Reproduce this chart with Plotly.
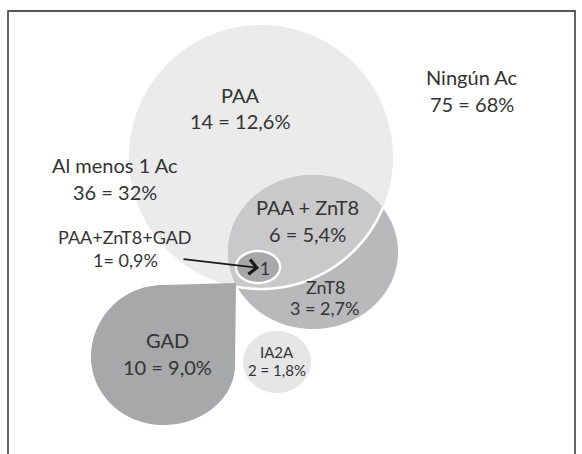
import numpy as np
import plotly.graph_objects as go

# ---- data ----
groups = ["Ningún Ac", "Al menos 1 Ac", "PAA", "PAA + ZnT8", "PAA+ZnT8+GAD", "ZnT8", "GAD", "IA2A"]
counts = [75, 36, 14, 6, 1, 3, 10, 2]
percents = ["68%", "32%", "12,6%", "5,4%", "0,9%", "2,7%", "9,0%", "1,8%"]
separators = [" = ", " = ", " = ", " = ", "= ", " = ", " = ", " = "]

# ---- layout constants (pixel space, y downward) ----
W, H = 582, 454
# label placement: x, y of name line, y of value line, font sizes
label_layout = {
    "Ningún Ac":     (472, 77, 104, 20, 20),
    "Al menos 1 Ac": (115, 165, 192, 20, 20),
    "PAA":           (240, 95, 121, 20, 20),
    "PAA + ZnT8":    (307, 207, 234, 20, 20),
    "PAA+ZnT8+GAD":  (125, 237, 260, 18, 18),
    "ZnT8":          (325, 287, 308, 18, 18),
    "GAD":           (167, 340, 367, 20, 20),
    "IA2A":          (277, 352, 370, 15, 15),
}
PAA_C = (261, 157, 132, 132)
ZNT8_C = (313, 252, 85, 77)
TRIPLE_C = (258, 267, 22, 16)
IA2A_C = (277, 362, 34, 31)

COL_PAA = "#ebebeb"
COL_INTER = "#c9c9cb"
COL_ZNT8 = "#b9b9bc"
COL_TRIPLE = "#a8a8ab"
COL_GAD = "#a7a8aa"
COL_IA2A = "#e6e6e7"
TXT = "#333333"
FONT = "Lato"


def ellipse_pts(c, n=240, t0=0, t1=2 * np.pi):
    cx, cy, rx, ry = c
    t = np.linspace(t0, t1, n)
    return cx + rx * np.cos(t), cy + ry * np.sin(t)


def inside(c, x, y):
    cx, cy, rx, ry = c
    return ((x - cx) / rx) ** 2 + ((y - cy) / ry) ** 2 <= 1.0


def poly_path(xs, ys, close=True):
    s = "M " + " L ".join(f"{a:.2f},{b:.2f}" for a, b in zip(xs, ys))
    return s + (" Z" if close else "")


shapes = []


def add_fill(path, color, line_color=None, lw=0):
    shapes.append(dict(type="path", path=path, xref="x", yref="y",
                       fillcolor=color,
                       line=dict(color=line_color or color, width=lw),
                       layer="below"))


# PAA circle
px, py = ellipse_pts(PAA_C, 600)
add_fill(poly_path(px, py), COL_PAA)

# ZnT8 ellipse
zx, zy = ellipse_pts(ZNT8_C, 600)
add_fill(poly_path(zx, zy), COL_ZNT8)

# intersection PAA ∩ ZnT8
m1 = inside(ZNT8_C, px, py)
m2 = inside(PAA_C, zx, zy)
ix = np.concatenate([px[m1], zx[m2]])
iy = np.concatenate([py[m1], zy[m2]])
ang = np.arctan2(iy - iy.mean(), ix - ix.mean())
order = np.argsort(ang)
add_fill(poly_path(ix[order], iy[order]), COL_INTER)

# white arc of PAA boundary inside ZnT8
t = np.linspace(0, 2 * np.pi, 1440)
ax_ = PAA_C[0] + PAA_C[2] * np.cos(t)
ay_ = PAA_C[1] + PAA_C[3] * np.sin(t)
mk = inside((ZNT8_C[0], ZNT8_C[1], ZNT8_C[2] + 1, ZNT8_C[3] + 1), ax_, ay_)
ta = t[np.where(mk)[0]]
arc_x = PAA_C[0] + PAA_C[2] * np.cos(ta)
arc_y = PAA_C[1] + PAA_C[3] * np.sin(ta)
shapes.append(dict(type="path", path=poly_path(arc_x, arc_y, close=False),
                   xref="x", yref="y", line=dict(color="white", width=2.6),
                   layer="below"))

# GAD teardrop (tip at upper right)
gx, gy = [], []
tip = (236, 283)
cxg, cyg = 163, 357
tt = np.linspace(-np.pi / 2, -np.pi, 60)
gx += list(cxg + 72 * np.cos(tt)); gy += list(cyg + 72 * np.sin(tt))
tt = np.linspace(np.pi, np.pi / 2, 60)
gx += list(cxg + 72 * np.cos(tt)); gy += list(cyg + 68 * np.sin(tt))
tt = np.linspace(np.pi / 2, 0, 60)
gx += list(cxg + 72 * np.cos(tt)); gy += list(365 + 60 * np.sin(tt))
gx += [tip[0]]; gy += [tip[1]]
add_fill(poly_path(gx, gy), COL_GAD)

# IA2A
ex, ey = ellipse_pts(IA2A_C, 300)
add_fill(poly_path(ex, ey), COL_IA2A)

# triple overlap
tx, ty = ellipse_pts(TRIPLE_C, 300)
shapes.append(dict(type="path", path=poly_path(tx, ty), xref="x", yref="y",
                   fillcolor=COL_TRIPLE, line=dict(color="white", width=2.4),
                   layer="below"))

# frame
shapes.append(dict(type="path", path=f"M 8,{H} L 8,11 L 575,11 L 575,{H}",
                   xref="x", yref="y", line=dict(color="#555555", width=1.8),
                   layer="above"))

annotations = []
for g, c, p, sep in zip(groups, counts, percents, separators):
    x, y1, y2, s1, s2 = label_layout[g]
    annotations.append(dict(x=x, y=y1, text=g, showarrow=False, xanchor="center",
                            yanchor="middle",
                            font=dict(family=FONT, size=s1, color=TXT)))
    annotations.append(dict(x=x, y=y2, text=f"{c}{sep}{p}", showarrow=False,
                            xanchor="center", yanchor="middle",
                            font=dict(family=FONT, size=s2, color=TXT)))

# "1" inside triple overlap + arrow
annotations.append(dict(x=265, y=268, text=str(counts[4]), showarrow=False,
                        xanchor="center", yanchor="middle",
                        font=dict(family=FONT, size=17, color=TXT)))
annotations.append(dict(x=259, y=268, ax=182, ay=259, axref="x", ayref="y",
                        xref="x", yref="y", text="", showarrow=True,
                        arrowhead=4, arrowsize=1.7, arrowwidth=1.7,
                        arrowcolor="#1a1a1a", standoff=0))

fig = go.Figure()
fig.update_layout(
    width=W, height=H, margin=dict(l=0, r=0, t=0, b=0),
    paper_bgcolor="white", plot_bgcolor="white",
    xaxis=dict(range=[0, W], visible=False, fixedrange=True),
    yaxis=dict(range=[H, 0], visible=False, fixedrange=True),
    shapes=shapes, annotations=annotations, showlegend=False,
)
fig.write_html("out.html", config={"displayModeBar": False},
               post_script="document.body.style.margin='0';")
